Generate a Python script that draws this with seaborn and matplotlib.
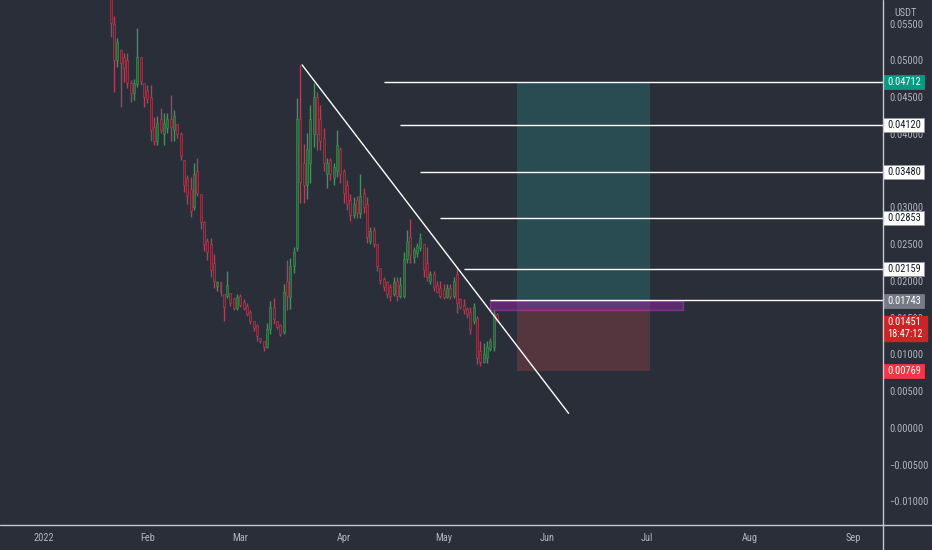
import matplotlib
matplotlib.use("Agg")
import numpy as np
import pandas as pd
import matplotlib.pyplot as plt
import matplotlib.dates as mdates
import matplotlib.transforms as mtransforms
from matplotlib.patches import Rectangle
from matplotlib.lines import Line2D
from matplotlib import font_manager
import seaborn as sns

# ---------------- data ----------------
start_date = "2022-01-21"
opens = [.0585, .0550, .0500, .0514, .0505, .0500, .0470, .0456, .0468, .0505,
         .0470, .0460, .0450, .0410, .0390, .0420, .0400, .0408, .0420, .0405,
         .0414, .0400, .0364, .0340, .0325, .0300, .0350, .0318, .0280, .0255,
         .0250, .0225, .0193, .0198, .0182, .0180, .0184, .0177, .0163, .0180,
         .0172, .0166, .0158, .0146, .0140, .0123, .0119, .0110, .0135, .0165,
         .0146, .0140, .0130, .0200, .0178, .0220, .0245, .0420, .0360, .0330,
         .0360, .0400, .0450, .0420, .0395, .0345, .0365, .0340, .0350, .0380,
         .0350, .0330, .0310, .0290, .0310, .0292, .0320, .0305, .0255, .0270,
         .0250, .0218, .0203, .0198, .0192, .0182, .0200, .0180, .0180, .0230,
         .0260, .0232, .0238, .0245, .0250, .0225, .0200, .0210, .0195, .0190,
         .0188, .0178, .0190, .0180, .0210, .0175, .0168, .0162, .0158, .0145,
         .0150, .0105, .0090, .0095, .0108, .0110, .0155]
highs = [.0600, .0560, .0530, .0516, .0510, .0510, .0473, .0475, .0544, .0505,
         .0470, .0466, .0466, .0423, .0425, .0435, .0428, .0428, .0453, .0432,
         .0414, .0403, .0364, .0344, .0341, .0360, .0367, .0319, .0282, .0259,
         .0258, .0237, .0200, .0198, .0182, .0214, .0184, .0177, .0182, .0182,
         .0176, .0170, .0160, .0146, .0142, .0123, .0119, .0143, .0173, .0177,
         .0146, .0142, .0196, .0228, .0231, .0246, .0449, .0494, .0387, .0401,
         .0439, .0469, .0457, .0439, .0408, .0368, .0367, .0361, .0405, .0382,
         .0353, .0337, .0319, .0314, .0316, .0346, .0326, .0314, .0273, .0273,
         .0251, .0218, .0205, .0200, .0196, .0205, .0205, .0205, .0239, .0269,
         .0285, .0246, .0252, .0265, .0251, .0246, .0214, .0214, .0200, .0200,
         .0196, .0196, .0196, .0205, .0218, .0177, .0176, .0164, .0164, .0170,
         .0153, .0119, .0115, .0119, .0123, .0160, .0157]
lows = [.0532, .0457, .0491, .0437, .0471, .0462, .0444, .0446, .0464, .0466,
        .0437, .0442, .0391, .0385, .0385, .0401, .0385, .0401, .0391, .0391,
        .0394, .0364, .0321, .0305, .0287, .0296, .0316, .0271, .0241, .0228,
        .0205, .0191, .0187, .0180, .0146, .0177, .0166, .0160, .0160, .0164,
        .0160, .0153, .0142, .0132, .0119, .0115, .0105, .0109, .0128, .0142,
        .0135, .0125, .0128, .0160, .0162, .0211, .0241, .0306, .0306, .0312,
        .0333, .0382, .0378, .0378, .0350, .0327, .0337, .0330, .0341, .0333,
        .0306, .0296, .0282, .0286, .0286, .0286, .0292, .0252, .0251, .0246,
        .0214, .0196, .0187, .0177, .0173, .0180, .0173, .0177, .0177, .0224,
        .0224, .0224, .0232, .0241, .0205, .0200, .0196, .0187, .0183, .0177,
        .0176, .0177, .0176, .0177, .0157, .0162, .0155, .0150, .0128, .0142,
        .0087, .0085, .0089, .0089, .0105, .0105, .01451]
closes = [.0551, .0500, .0525, .0496, .0490, .0470, .0456, .0470, .0505, .0472,
          .0450, .0448, .0405, .0390, .0415, .0405, .0415, .0420, .0410, .0425,
          .0400, .0370, .0330, .0315, .0295, .0345, .0320, .0280, .0250, .0240,
          .0215, .0200, .0198, .0185, .0165, .0195, .0170, .0163, .0178, .0168,
          .0163, .0155, .0146, .0136, .0125, .0118, .0110, .0135, .0165, .0148,
          .0138, .0128, .0185, .0180, .0220, .0240, .0420, .0335, .0330, .0380,
          .0420, .0450, .0400, .0390, .0360, .0360, .0345, .0355, .0385, .0345,
          .0320, .0305, .0290, .0305, .0292, .0315, .0300, .0260, .0268, .0250,
          .0220, .0202, .0192, .0182, .0180, .0198, .0180, .0195, .0230, .0255,
          .0235, .0242, .0248, .0258, .0215, .0205, .0210, .0192, .0185, .0180,
          .0178, .0190, .0179, .0200, .0170, .0165, .0160, .0155, .0135, .0165,
          .0095, .0090, .0100, .0110, .0118, .0155, .01451]

month_ticks = ["2022-01-01", "2022-02-01", "2022-03-01", "2022-04-01", "2022-05-01",
               "2022-06-01", "2022-07-01", "2022-08-01", "2022-09-01"]
month_labels = ["2022", "Feb", "Mar", "Apr", "May", "Jun", "Jul", "Aug", "Sep"]
# 0.035 is fully covered by the 0.03480 tag in the reference, so it is not listed
price_ticks = [0.055, 0.050, 0.045, 0.040, 0.030, 0.025, 0.020, 0.015,
               0.010, 0.005, 0.000, -0.005, -0.010]

trend_dates = ["2022-03-19 12:00", "2022-06-07 12:00"]
trend_prices = [0.0494, 0.0020]

level_prices = [0.04712, 0.04120, 0.03480, 0.02853, 0.02159, 0.01743]
level_starts = ["2022-04-13", "2022-04-18", "2022-04-24", "2022-04-30", "2022-05-07", "2022-05-15"]

pos_start, pos_end = "2022-05-23", "2022-07-02"
target_price, entry_price, stop_price = 0.04712, 0.0165, 0.00769
zone_start, zone_end = "2022-05-15", "2022-07-12"
zone_low, zone_high = 0.01605, 0.01732

current_price = 0.01451
countdown = "18:47:12"

# ---------------- style ----------------
BG = "#2a2e39"
sns.set_theme(style="dark", rc={"axes.facecolor": BG, "figure.facecolor": BG,
                                "axes.edgecolor": BG, "grid.color": BG})


def pick_font(cands):
    for cand in cands:
        try:
            font_manager.findfont(font_manager.FontProperties(family=cand), fallback_to_default=False)
            return cand
        except Exception:
            pass
    return "DejaVu Sans"


FONT = pick_font(["Liberation Sans Narrow", "Roboto Condensed", "Roboto", "DejaVu Sans"])
plt.rcParams["font.family"] = [FONT, "DejaVu Sans"]
plt.rcParams["axes.unicode_minus"] = True

W, H = 932, 550
fig = plt.figure(figsize=(W / 100, H / 100), dpi=100)
AX_R = 883
AX_B = 525
ax = fig.add_axes([0, (H - AX_B) / H, AX_R / W, AX_B / H])
ax.set_facecolor(BG)

dates = pd.date_range(start_date, periods=len(opens), freq="D")
x = mdates.date2num(dates)
o = np.array(opens); h = np.array(highs); l = np.array(lows); c = np.array(closes)
up = c >= o

RED_WICK, RED_BODY = "#a8435c", "#741c27"
GRN_WICK, GRN_BODY = "#47905e", "#226633"
wick_cols = np.where(up, GRN_WICK, RED_WICK)
body_cols = np.where(up, GRN_BODY, RED_BODY)

ax.vlines(x, l, h, colors=wick_cols, linewidth=1.0, zorder=2)
ax.bar(x, np.maximum(np.abs(c - o), 0.0002), bottom=np.minimum(o, c), width=0.6,
       color=body_cols, edgecolor=wick_cols, linewidth=0.4, zorder=3)

# position tool
p0, p1 = mdates.date2num(pd.Timestamp(pos_start)), mdates.date2num(pd.Timestamp(pos_end))
ax.add_patch(Rectangle((p0, entry_price), p1 - p0, target_price - entry_price,
                       facecolor="#26a69a", alpha=0.25, edgecolor="none", zorder=1))
ax.add_patch(Rectangle((p0, stop_price), p1 - p0, entry_price - stop_price,
                       facecolor="#ef5350", alpha=0.22, edgecolor="none", zorder=1))

# purple zone
z0, z1 = mdates.date2num(pd.Timestamp(zone_start)), mdates.date2num(pd.Timestamp(zone_end))
ax.add_patch(Rectangle((z0, zone_low), z1 - z0, zone_high - zone_low,
                       facecolor="#9c27b0", alpha=0.45, edgecolor="#c040c8",
                       linewidth=1.0, zorder=4))

# x limits
xmin = mdates.date2num(pd.Timestamp("2022-01-01")) - 13.2
xmax = mdates.date2num(pd.Timestamp("2022-01-01")) + 251.9
ymin, ymax = -0.0132, 0.05823

# level lines
for pr, st in zip(level_prices, level_starts):
    ax.hlines(pr, mdates.date2num(pd.Timestamp(st)), xmax, colors="white", linewidth=1.0, zorder=5)

# trend line via seaborn
trend_df = pd.DataFrame({"date": mdates.date2num(pd.to_datetime(trend_dates, format="%Y-%m-%d %H:%M")),
                         "price": trend_prices})
sns.lineplot(data=trend_df, x="date", y="price", ax=ax, color="white", linewidth=1.0,
             zorder=6, legend=False)
ax.set_xlabel(""); ax.set_ylabel("")
ax.set_xlim(xmin, xmax)
ax.set_ylim(ymin, ymax)

# axes ticks
TICK_COL = "#b2b5be"
ax.set_xticks(mdates.date2num(pd.to_datetime(month_ticks)))
ax.set_xticklabels(month_labels)
ax.yaxis.tick_right()
ax.set_yticks(price_ticks)
ax.set_yticklabels([("%.5f" % v).replace("-", "\u2212") for v in price_ticks])
ax.tick_params(axis="x", length=0, pad=6, labelsize=7.5, labelcolor=TICK_COL)
ax.tick_params(axis="y", length=0, pad=4.5, labelsize=7.5, labelcolor=TICK_COL)
ax.grid(False)
for s in ax.spines.values():
    s.set_visible(False)

# separators
SEP = "#c5c8d0"
fig.add_artist(Line2D([0, 1], [(H - AX_B) / H] * 2, transform=fig.transFigure, color=SEP, linewidth=1.0))
fig.add_artist(Line2D([AX_R / W] * 2, [0, 1], transform=fig.transFigure, color=SEP, linewidth=1.0))

fig.text(906 / W, 1 - 13 / H, "USDT", ha="center", va="center", fontsize=7.5, color=TICK_COL)

# price tags
trans = mtransforms.blended_transform_factory(fig.transFigure, ax.transData)
PX = 1 / 7333.0


def tag(price, text, fc, tc, h_px=14, ec=None, dy_px=0):
    hh = h_px * PX
    yc = price - dy_px * PX
    ax.add_patch(Rectangle((AX_R / W, yc - hh / 2), 41 / W, hh, transform=trans,
                           facecolor=fc, edgecolor=ec if ec else fc, linewidth=0.6,
                           clip_on=False, zorder=10))
    ax.text(904 / W, yc, text, transform=trans, ha="center", va="center",
            fontsize=7.5, color=tc, clip_on=False, zorder=11)


tag(0.04712, "0.04712", "#089981", "white")
for pr in [0.04120, 0.03480, 0.02853, 0.02159]:
    tag(pr, "%.5f" % pr, "white", "#131722", ec="#9598a1")
tag(0.01743, "0.01743", "#787b86", "white", dy_px=1)

# current price two-line tag
hh = 25 * PX
cy = current_price - 7 * PX
ax.add_patch(Rectangle((AX_R / W, cy - hh / 2), 44 / W, hh, transform=trans,
                       facecolor="#cc2424", edgecolor="#cc2424", clip_on=False, zorder=10))
ax.text(904 / W, cy + 6 * PX, "%.5f" % current_price, transform=trans, ha="center", va="center",
        fontsize=7.5, color="white", clip_on=False, zorder=11)
ax.text(905 / W, cy - 6 * PX, countdown, transform=trans, ha="center", va="center",
        fontsize=7.5, color="white", clip_on=False, zorder=11)

tag(0.00769, "0.00769", "#f23645", "white")

fig.savefig("out.png", dpi=100, facecolor=BG)
